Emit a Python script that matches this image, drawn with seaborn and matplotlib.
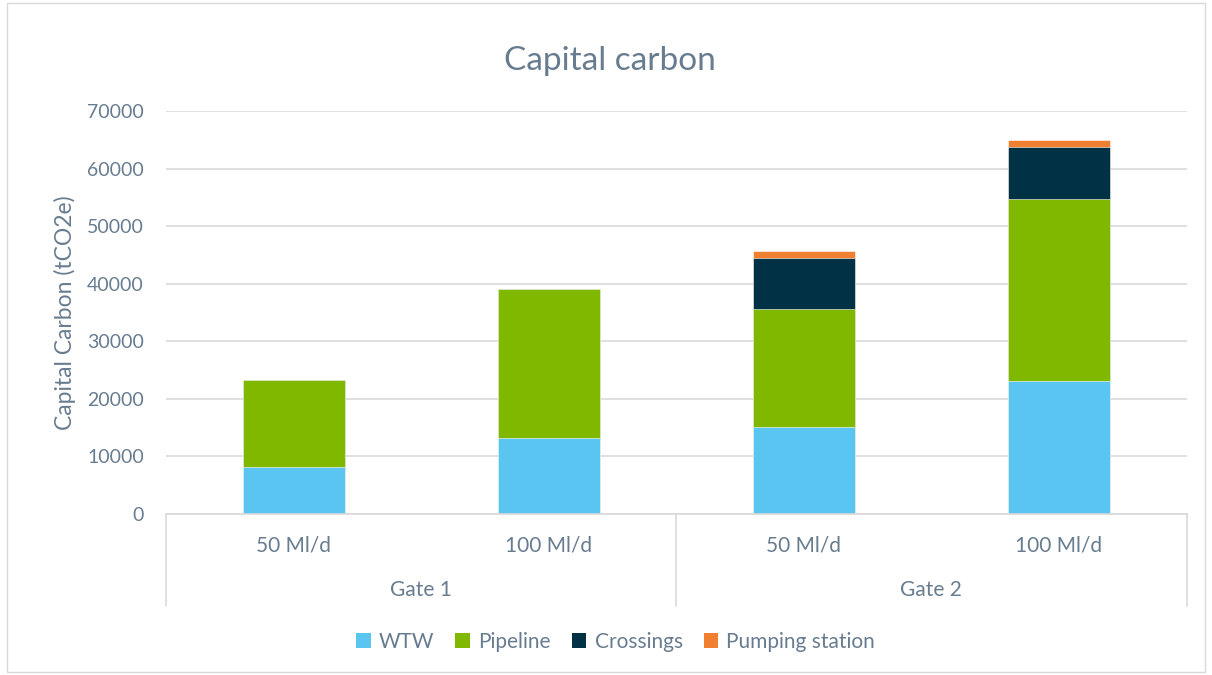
import numpy as np
import pandas as pd
import matplotlib
matplotlib.use("Agg")
import matplotlib.pyplot as plt
import matplotlib.transforms as mtransforms
from matplotlib.patches import Rectangle, Patch
import seaborn as sns

# Data (tCO2e)
categories = ["50 Ml/d", "100 Ml/d", "50 Ml/d ", "100 Ml/d "]
tick_labels = ["50 Ml/d", "100 Ml/d", "50 Ml/d", "100 Ml/d"]
groups = ["Gate 1", "Gate 2"]
wtw = [8200, 13200, 15200, 23100]
pipeline = [15100, 25900, 20400, 31600]
crossings = [0, 0, 8800, 9000]
pumping = [0, 0, 1300, 1300]

series_names = ["WTW", "Pipeline", "Crossings", "Pumping station"]
colors = ["#5BC5F2", "#80B800", "#003145", "#F08030"]
TEXT = "#687C90"
GRID = "#D9D9D9"

sns.set_style("white")
plt.rcParams["font.family"] = ["Lato", "DejaVu Sans"]

fig = plt.figure(figsize=(12.12, 6.75), dpi=100)
ax = fig.add_axes([0.137, 0.2385, 0.842, 0.597])

# stacked bars: draw cumulative totals from the top layer down
layers = [wtw, pipeline, crossings, pumping]
cum = np.cumsum(np.array(layers), axis=0)
for i in range(len(layers) - 1, -1, -1):
    df = pd.DataFrame({"cat": categories, "val": cum[i]})
    sns.barplot(data=df, x="cat", y="val", color=colors[i], width=0.4,
                saturation=1, ax=ax, edgecolor="white", linewidth=0.4)

ax.set_xlim(-0.5, 3.5)
ax.set_ylim(0, 70000)
ax.set_yticks(range(0, 70001, 10000))
ax.set_yticklabels([str(v) for v in range(0, 70001, 10000)])
ax.yaxis.grid(True, color=GRID, linewidth=1.2)
ax.set_axisbelow(True)
for s in ["top", "right", "left"]:
    ax.spines[s].set_visible(False)
ax.spines["bottom"].set_color(GRID)
ax.spines["bottom"].set_linewidth(1.2)
ax.tick_params(axis="y", length=0, labelsize=14, labelcolor=TEXT, pad=16)
ax.set_xticks([])
ax.set_xlabel("")
ax.set_ylabel("Capital Carbon (tCO2e)", fontsize=16.5, color=TEXT, labelpad=8)

fig.text(0.503, 0.91, "Capital carbon", ha="center", va="center",
         fontsize=24, color=TEXT)

# multi-level category axis
trans = mtransforms.blended_transform_factory(ax.transData, ax.transAxes)
for i, lab in enumerate(tick_labels):
    ax.text(i, -0.077, lab, transform=trans, ha="center", va="center",
            fontsize=15, color=TEXT)
for g, lab in enumerate(groups):
    ax.text(g * 2 + 0.5, -0.189, lab, transform=trans, ha="center", va="center",
            fontsize=15, color=TEXT)
for xv in [-0.5, 1.5, 3.5]:
    ax.plot([xv, xv], [0, -0.228], transform=trans, color=GRID,
            linewidth=1.2, clip_on=False)

handles = [Patch(facecolor=c, edgecolor="none") for c in colors]
fig.legend(handles, series_names, loc="center", bbox_to_anchor=(0.508, 0.049),
           ncol=4, frameon=False, fontsize=15, labelcolor=TEXT,
           handlelength=0.7, handleheight=0.7, handletextpad=0.4,
           columnspacing=1.0)

fig.patches.append(Rectangle((0.006, 0.004), 0.988, 0.992, transform=fig.transFigure,
                             fill=False, edgecolor=GRID, linewidth=1))

fig.savefig("out.png", dpi=100)
